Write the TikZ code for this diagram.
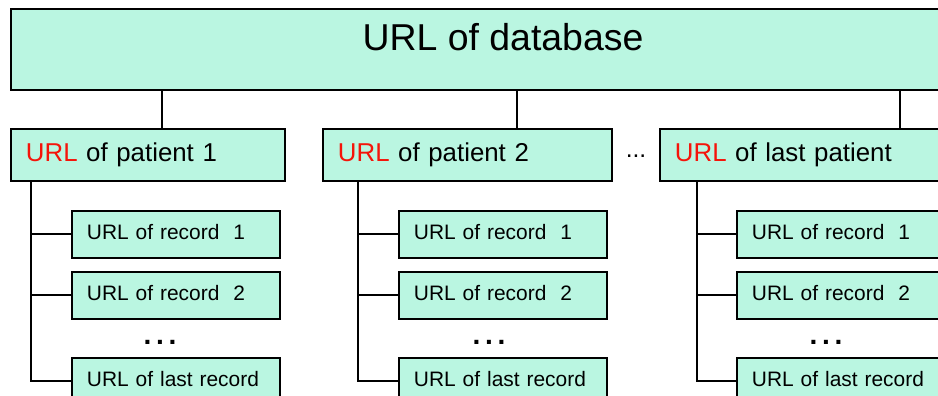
\documentclass[tikz,border=0pt]{standalone}
\usepackage{fontspec}
\setmainfont{Liberation Sans}
\usepackage{tikz}
\definecolor{mint}{RGB}{186,246,225}
\definecolor{urlred}{RGB}{245,20,10}
\newcommand{\url}{{\color{urlred}URL}}

\begin{document}
\begin{tikzpicture}[x=0.02cm,y=-0.02cm,line width=1.1pt,
    box/.style={draw,fill=mint,rectangle,anchor=north west,align=left},
    dbbox/.style={box,minimum width=19.72cm,minimum height=1.62cm},
    patbox/.style={box,inner xsep=0.3cm,minimum height=1.04cm,font=\fontsize{14.7}{17}\selectfont},
    recbox/.style={box,inner xsep=0.3cm,text width=3.56cm,text depth=0.12cm,minimum height=0.94cm,font=\fontsize{11.9}{14}\selectfont},
    dots/.style={font=\fontsize{16}{18}\selectfont\bfseries}]
    \useasboundingbox (0,0) rectangle (938,396);
    \clip (0,0) rectangle (938,396);
    % database
    \node[dbbox] (db) at (10,8) {};
    \node[font=\fontsize{21.3}{24}\selectfont] (dbtext) at (503,37) {URL of database};
    % patients
    \node[patbox,text width=4.88cm] (pat1) at (10,128) {\url{} of patient 1};
    \node[patbox,text width=5.18cm] (pat2) at (322,128) {\url{} of patient 2};
    \node[font=\fontsize{14}{16}\selectfont] (patdots) at (636,156) {...};
    \node[patbox,text width=5.18cm] (patlast) at (659,128) {\url{} of last patient};
    \coordinate (t1) at (162,0);
    \coordinate (t2) at (517,0);
    \coordinate (t3) at (900,0);
    \draw (db.south -| t1) -- (pat1.north -| t1);
    \draw (db.south -| t2) -- (pat2.north -| t2);
    \draw (db.south -| t3) -- (patlast.north -| t3);
    % records of patient 1
    \node[recbox] (rec11) at (71,210) {URL of record~~1};
    \node[recbox] (rec12) at (71,271) {URL of record~~2};
    \node[dots] (dots1) at (160,342) {.\,.\,.};
    \node[recbox] (rec1l) at (71,357) {URL of last record};
    % records of patient 2
    \node[recbox] (rec21) at (398,210) {URL of record~~1};
    \node[recbox] (rec22) at (398,271) {URL of record~~2};
    \node[dots] (dots2) at (489,342) {.\,.\,.};
    \node[recbox] (rec2l) at (398,357) {URL of last record};
    % records of last patient
    \node[recbox] (rec31) at (736,210) {URL of record~~1};
    \node[recbox] (rec32) at (736,271) {URL of record~~2};
    \node[dots] (dots3) at (826,342) {.\,.\,.};
    \node[recbox] (rec3l) at (736,357) {URL of last record};
    \coordinate (v1) at (31,0);
    \coordinate (v2) at (358,0);
    \coordinate (v3) at (697,0);
    \draw (pat1.south -| v1) |- (rec1l.west);
    \draw (rec11.west -| v1) -- (rec11.west);
    \draw (rec12.west -| v1) -- (rec12.west);
    \draw (pat2.south -| v2) |- (rec2l.west);
    \draw (rec21.west -| v2) -- (rec21.west);
    \draw (rec22.west -| v2) -- (rec22.west);
    \draw (patlast.south -| v3) |- (rec3l.west);
    \draw (rec31.west -| v3) -- (rec31.west);
    \draw (rec32.west -| v3) -- (rec32.west);
  \end{tikzpicture}
\end{document}
